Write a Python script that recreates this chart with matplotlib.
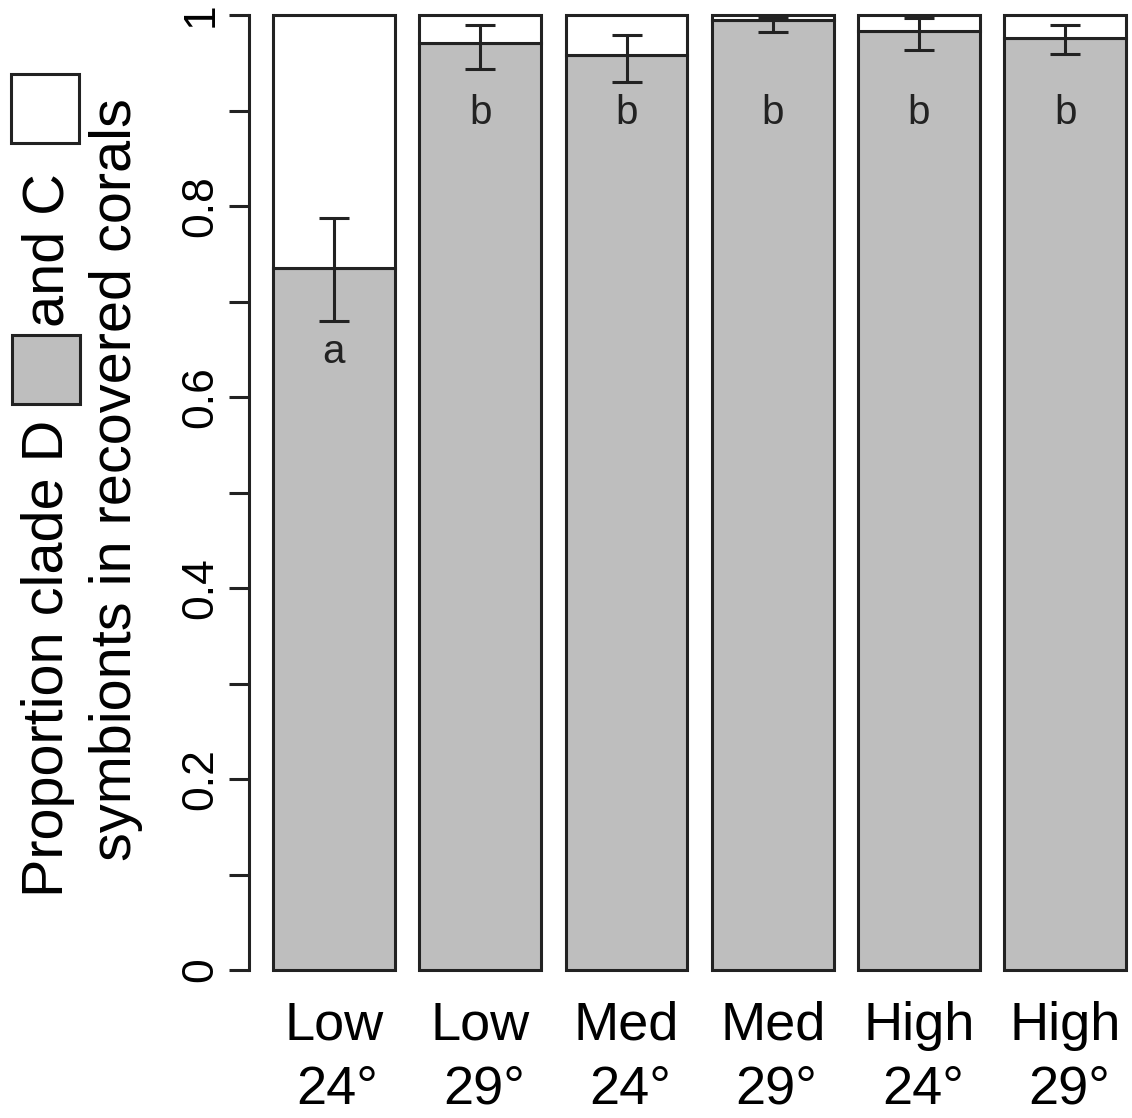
import matplotlib
matplotlib.use("Agg")
import matplotlib.pyplot as plt
from matplotlib.patches import Rectangle
from matplotlib.transforms import blended_transform_factory
from matplotlib import font_manager as fm

# ---- data ----
dose = ["Low", "Low", "Med", "Med", "High", "High"]
temp = ["24°", "29°", "24°", "29°", "24°", "29°"]
prop_D = [0.735, 0.971, 0.958, 0.995, 0.983, 0.976]
ci_low = [0.680, 0.943, 0.930, 0.982, 0.963, 0.959]
ci_high = [0.787, 0.990, 0.979, 0.998, 0.997, 0.990]
letters = ["a", "b", "b", "b", "b", "b"]
yticks = [0, 0.1, 0.2, 0.3, 0.4, 0.5, 0.6, 0.7, 0.8, 0.9, 1.0]
ytick_labels = ["0", "", "0.2", "", "0.4", "", "0.6", "", "0.8", "", "1"]

# ---- fonts ----
def has_font(name):
    try:
        fm.findfont(fm.FontProperties(family=name), fallback_to_default=False)
        return True
    except Exception:
        return False

main_font = "Liberation Sans" if has_font("Liberation Sans") else "DejaVu Sans"
narrow_ok = has_font("Liberation Sans Narrow")
tick_font = "Liberation Sans Narrow" if narrow_ok else main_font
tick_size = 35 if narrow_ok else 32
plt.rcParams["font.family"] = [main_font, "DejaVu Sans"]

W, H = 1132, 1118
fig = plt.figure(figsize=(W / 100, H / 100), dpi=100)

def fx(px):
    return px / W

def fy(py):
    return 1 - py / H

ax = fig.add_axes([248.6 / W, (H - 970) / H, 882.6 / W, 955 / H])
ax.set_xlim(0, 7.24)
ax.set_ylim(0, 1)

dark = "#222222"
grey = "#bebebe"
lw = 2.2

x = [0.7 + 1.2 * i for i in range(len(dose))]
c_part = [1 - v for v in prop_D]
ax.bar(x, prop_D, width=1.0, color=grey, edgecolor=dark, linewidth=lw, clip_on=False, zorder=2)
ax.bar(x, c_part, bottom=prop_D, width=1.0, color="white", edgecolor=dark, linewidth=lw,
       clip_on=False, zorder=2)

yerr = [[v - lo for v, lo in zip(prop_D, ci_low)], [hi - v for v, hi in zip(prop_D, ci_high)]]
eb = ax.errorbar(x, prop_D, yerr=yerr, fmt="none", ecolor=dark, elinewidth=lw, capsize=11,
                 capthick=lw, zorder=3)
for art in eb.get_children():
    art.set_clip_on(False)

letter_y = [0.636] + [0.886] * 5
for xi, yi, t in zip(x, letter_y, letters):
    ax.text(xi, yi, t, ha="center", va="baseline", fontsize=29, color=dark, zorder=4)

# axes styling
for s in ["top", "right", "bottom"]:
    ax.spines[s].set_visible(False)
ax.spines["left"].set_bounds(0, 1)
ax.spines["left"].set_linewidth(lw)
ax.spines["left"].set_color(dark)

ax.set_yticks(yticks)
ax.set_yticklabels(ytick_labels, rotation=90, va="center", fontsize=tick_size, family=tick_font)
ax.tick_params(axis="y", length=14.4, width=lw, color=dark, pad=5, labelcolor="black")

ax.set_xticks(x)
ax.set_xticklabels(dose, fontsize=39)
ax.tick_params(axis="x", length=0, pad=22, labelcolor="black")
ax.patch.set_visible(False)

trans = blended_transform_factory(ax.transData, fig.transFigure)
for xi, t in zip(x, temp):
    ax.text(xi + 0.03, fy(1104), t, transform=trans, ha="center", va="baseline",
            fontsize=39, color="black", clip_on=False)

# y label with legend boxes
fig.text(fx(21), fy(897), "Proportion clade D", rotation=90, ha="left", va="bottom",
         fontsize=41.5, color="black")
fig.add_artist(Rectangle((fx(12), fy(404)), fx(80) - fx(12), fy(335) - fy(404),
                         transform=fig.transFigure, facecolor=grey, edgecolor=dark, linewidth=lw))
fig.text(fx(21), fy(327), "and C", rotation=90, ha="left", va="bottom",
         fontsize=41.5, color="black")
fig.add_artist(Rectangle((fx(11), fy(143)), fx(79) - fx(11), fy(74) - fy(143),
                         transform=fig.transFigure, facecolor="white", edgecolor=dark, linewidth=lw))
fig.text(fx(89), fy(480), "symbionts in recovered corals", rotation=90, ha="left", va="center",
         fontsize=41.5, color="black")

fig.savefig("out.png", dpi=100, facecolor="white")
